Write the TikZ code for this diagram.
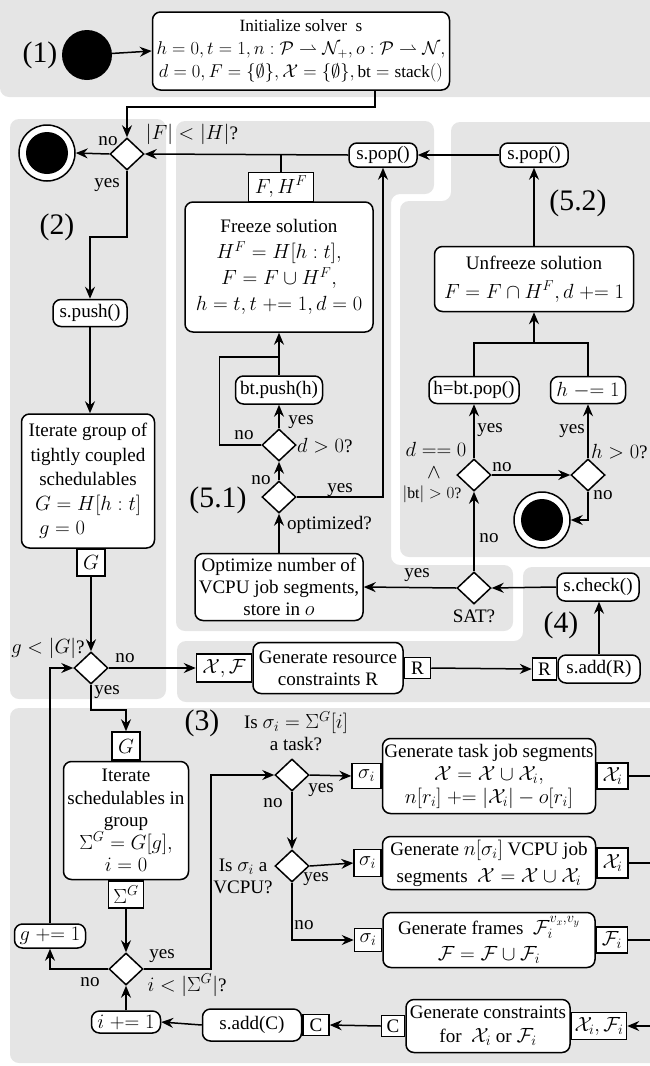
\documentclass[tikz,border=0pt]{standalone}
\usepackage{fix-cm}
\usepackage{fontspec}
\setmainfont{Liberation Serif}[Scale=0.93]
\usetikzlibrary{shapes.geometric,arrows.meta}
\begin{document}
\begin{tikzpicture}[x=1pt,y=-1pt,
  every node/.style={font=\fontsize{20.5}{22}\selectfont},
  box/.style={draw,rectangle,rounded corners=8pt,fill=white,line width=1.5pt,align=center,inner sep=1pt},
  pinbox/.style={draw,rectangle,fill=white,line width=1.5pt,inner sep=1.5pt,minimum height=25pt},
  dia/.style={draw,diamond,fill=white,line width=1.5pt,minimum width=34pt,minimum height=32pt,inner sep=0pt},
  startnode/.style={circle,fill=black,minimum size=50pt,inner sep=0pt},
  endouter/.style={circle,draw,fill=white,line width=1.5pt,minimum size=56pt,inner sep=0pt},
  endinner/.style={circle,fill=black,minimum size=42pt,inner sep=0pt},
  big/.style={font=\fontsize{32}{34}\selectfont,inner sep=0pt},
  lab/.style={inner sep=0pt},
  conn/.style={line width=1.5pt},
  arr/.style={conn,-{Stealth[length=12pt,width=10pt,inset=4pt]}},
  panel/.style={fill=gray!20,rounded corners=9pt}
]
\useasboundingbox (0,0) rectangle (650,1066);
% ---------- panels
\fill[panel] (0,-20) rectangle (680,97);
\fill[panel] (10,119) rectangle (166,699);
\fill[panel] (176,121) -- (434,121) -- (434,194) -- (391,194) -- (391,565) -- (513,565) -- (513,631) -- (176,631) -- cycle;
\fill[panel] (451,122) -- (680,122) -- (680,557) -- (400,557) -- (400,201) -- (451,201) -- cycle;
\fill[panel] (523,567) -- (680,567) -- (680,702) -- (177,702) -- (177,641) -- (523,641) -- cycle;
\fill[panel] (10,708) rectangle (680,1063);

% ---------- (1)
\node[big] (l1) at (40,55) {(1)};
\node[startnode] (st) at (87,55) {};
\node[box, minimum width=297pt, minimum height=78pt, font=\fontsize{18.5}{23}\selectfont] (init) at (301,51)
  {Initialize solver\ \ s\\ $h=0,t=1,n:\mathcal{P}\rightharpoonup\mathcal{N}_+,o:\mathcal{P}\rightharpoonup\mathcal{N},$\\ $d=0,F=\{\emptyset\},\mathcal{X}=\{\emptyset\},\mathrm{bt}=\mathrm{stack}()$};
\draw[arr] (st) -- (init.west);

% ---------- (2)
\node[dia] (d1) at (127,154) {};
\node[endouter] (end1) at (47,153) {};
\node[endinner] (end1i) at (end1) {};
\coordinate (j1) at (375,107);
\draw[arr] (init.south -| j1) -- (j1) -| (d1.north);
\draw[arr] (d1.west) -- (end1.east);
\node[lab] (no1) at (108,141) {no};
\node[lab] (yes1) at (107,185) {yes};
\node[lab] (c1) at (192,134) {$|F|<|H|$?};
\node[big] (l2) at (57,227) {(2)};
\node[box, minimum width=74pt, minimum height=27pt] (spush) at (90,313) {s.push()};
\draw[arr] (d1.south) -- ++(0,66) -| (spush.north);
\node[box, minimum width=133pt, minimum height=134pt, font=\fontsize{20.5}{24.5}\selectfont] (igroup) at (88,481)
  {Iterate group of\\ tightly coupled\\ schedulables\\ $G=H[h:t]$\\ $g=0$\hspace*{52pt}};
\draw[arr] (spush.south) -- (spush.south |- igroup.north);
\node[pinbox, anchor=north, minimum width=28pt, minimum height=27pt] (G1) at (91,548) {$G$};
\node[dia] (d2) at (91,668) {};
\draw[arr] (G1.south) -- (d2.north);
\node[lab] (c2) at (48,648) {$g<|G|$?};
\node[lab] (no2) at (125,658) {no};
\node[lab] (yes2) at (107,692) {yes};

% ---------- (5.1)
\node[box, minimum width=188pt, minimum height=130pt, font=\fontsize{20.5}{26}\selectfont] (freeze) at (279,267)
  {Freeze solution\\ $H^F=H[h:t],$\\ $F=F\cup H^F,$\\ $h=t,t\mathrel{+}=1,d=0$};
\node[pinbox, anchor=south, minimum width=65pt, minimum height=29pt] (FH) at (281,202) {$F,H^F$};
\node[box, minimum width=68pt, minimum height=24pt] (spopL) at (383,155) {s.pop()};
\node[box, minimum width=68pt, minimum height=24pt] (spopR) at (534,155) {s.pop()};
\draw[arr] (spopL.west) -- (d1.east);
\draw[conn] (FH.north) -- (FH.north |- d1.east);
\draw[arr] (spopR.west) -- (spopL.east);
\node[box, minimum width=87pt, minimum height=28pt] (btpush) at (279,390) {bt.push(h)};
\node[dia] (dd) at (279,445) {};
\node[dia] (dopt) at (279,497) {};
\coordinate (jf) at (279,357);
\draw[arr] (jf) -- (freeze.south);
\draw[conn] (btpush.north) -- (jf);
\draw[conn] (dd.west) -- ++(-42,0) |- (jf);
\draw[arr] (dd.north) -- (btpush.south);
\draw[arr] (dopt.north) -- (dd.south);
\draw[arr] (dopt.east) -| (spopL.south);
\node[lab] (yes3) at (301,422) {yes};
\node[lab] (no3) at (244,435) {no};
\node[lab, anchor=west] (c3) at (297,446) {$d>0$?};
\node[lab] (no4) at (261,480) {no};
\node[lab] (yes4) at (340,490) {yes};
\node[lab, anchor=west] (c4) at (287,525) {optimized?};
\node[big] (l51) at (218,500) {(5.1)};
\node[box, minimum width=168pt, minimum height=67pt, font=\fontsize{20.5}{22}\selectfont] (opt) at (279,587)
  {Optimize number of\\ VCPU job segments,\\ store in $o$};
\draw[arr] (opt.north) -- (dopt.south);

% ---------- (5.2)
\node[big] (l52) at (578,203) {(5.2)};
\node[box, minimum width=199pt, minimum height=65pt, font=\fontsize{20.5}{29}\selectfont] (unfreeze) at (534,279)
  {Unfreeze solution\\ $F=F\cap H^F,d\mathrel{+}=1$};
\draw[arr] (unfreeze.north) -- (spopR.south);
\coordinate (ju) at (534,343);
\draw[arr] (ju) -- (unfreeze.south);
\node[box, minimum width=90pt, minimum height=27pt] (hpop) at (474,390) {h=bt.pop()};
\node[box, minimum width=75pt, minimum height=27pt] (hdec) at (588,390) {$h\mathrel{-}=1$};
\draw[conn] (hpop.north) |- (ju);
\draw[conn] (hdec.north) |- (ju);
\node[dia] (dl) at (474,475) {};
\node[dia] (dr) at (588,475) {};
\draw[arr] (dl.north) -- (hpop.south);
\draw[arr] (dr.north) -- (hdec.south);
\draw[arr] (dl.east) -- (dr.west);
\node[endouter] (end2) at (542,520) {};
\node[endinner] (end2i) at (end2) {};
\draw[arr] (dr.south) |- (end2.east);
\node[lab] (yes5) at (490,430) {yes};
\node[lab] (yes6) at (572,431) {yes};
\node[lab] (no5) at (502,467) {no};
\node[lab] (no6) at (603,495) {no};
\node[lab] (c5a) at (436,449) {$d==0$};
\node[lab] (c5b) at (434,473) {$\wedge$};
\node[lab, font=\fontsize{17}{19}\selectfont] (c5c) at (432,494) {$|\mathrm{bt}|>0$?};
\node[lab, anchor=west] (c6) at (591,452) {$h>0$?};

% ---------- (4)
\node[dia] (sat) at (474,588) {};
\node[lab] (csat) at (474,616) {SAT?};
\node[lab] (no7) at (489,538) {no};
\node[lab] (yes7) at (417,575) {yes};
\draw[arr] (sat.north) -- (dl.south);
\draw[arr] (sat.west) -- (opt.east);
\node[box, minimum width=82pt, minimum height=28pt] (scheck) at (598,587) {s.check()};
\draw[arr] (scheck.west) -- (sat.east);
\node[big] (l4) at (561,625) {(4)};
\node[pinbox, minimum width=55pt, minimum height=28pt] (XF) at (224,668) {$\mathcal{X},\mathcal{F}$};
\node[box, anchor=west, minimum width=150pt, minimum height=51pt] (genR) at (XF.east) {Generate resource\\ constraints R};
\node[pinbox, anchor=west, minimum width=26pt, minimum height=21pt] (R1) at (genR.east) {R};
\node[box, minimum width=82pt, minimum height=28pt] (saddR) at (599,669) {s.add(R)};
\node[pinbox, anchor=east, minimum width=24pt, minimum height=22pt] (R2) at (saddR.west) {R};
\draw[arr] (R1.east) -- (R2.west);
\draw[arr] (saddR.north) -- (saddR.north |- scheck.south);
\draw[arr] (d2.east) -- (XF.west);

% ---------- (3)
\node[big] (l3) at (202,723) {(3)};
\node[lab, align=center, font=\fontsize{20.5}{22}\selectfont] (c7) at (296,731) {Is $\sigma_i=\Sigma^G[i]$\\ a task?};
\node[pinbox, minimum width=28pt, minimum height=28pt] (G2) at (126,746) {$G$};
\draw[arr] (d2.south) -- ++(0,25) -| (G2.north);
\node[box, anchor=north, minimum width=125pt, minimum height=118pt, font=\fontsize{20.5}{22.5}\selectfont] (isched) at (G2.south)
  {Iterate\\ schedulables in\\ group\\ $\Sigma^G=G[g],$\\ $i=0$};
\node[pinbox, anchor=north, minimum width=35pt, minimum height=27pt] (SG) at (isched.south) {$\Sigma^G$};
\node[dia] (d3) at (126,969) {};
\draw[arr] (SG.south) -- (d3.north);
\node[lab] (yes8) at (162,956) {yes};
\node[lab] (no8) at (90,982) {no};
\node[lab] (c8) at (187,985) {$i<|\Sigma^G|$?};
\node[box, minimum width=71pt, minimum height=24pt] (ginc) at (50,936) {$g\mathrel{+}=1$};
\draw[arr] (d3.west) -| (ginc.south);
\draw[arr] (ginc.north) |- (d2.west);
\node[box, minimum width=69pt, minimum height=22pt] (iinc) at (126,1022) {$i\mathrel{+}=1$};
\draw[arr] (iinc.north) -- (d3.south);
\node[box, minimum width=99pt, minimum height=32pt] (saddC) at (252,1025) {s.add(C)};
\node[pinbox, anchor=west, minimum width=26pt, minimum height=21pt] (C1) at (saddC.east) {C};
\draw[arr] (saddC.west) -- (iinc.east);
\node[dia] (dtask) at (292,775) {};
\node[dia] (dvcpu) at (292,866) {};
\draw[arr] (d3.east) -- ++(67,0) |- (dtask.west);
\draw[arr] (dtask.south) -- (dvcpu.north);
\node[lab] (no9) at (273,803) {no};
\node[lab] (yes9) at (321,790) {yes};
\node[lab, align=center, font=\fontsize{20.5}{22}\selectfont] (c9) at (243,876) {Is $\sigma_i$ a\\ VCPU?};
\node[lab] (yes10) at (316,879) {yes};
\node[lab] (no10) at (304,925) {no};
% generators
\node[box, minimum width=213pt, minimum height=75pt, font=\fontsize{20.5}{23}\selectfont] (gtask) at (489,776)
  {Generate task job segments\\ $\mathcal{X}=\mathcal{X}\cup\mathcal{X}_i,$\\ $n[r_i]\mathrel{+}=|\mathcal{X}_i|-o[r_i]$};
\node[pinbox, anchor=east, minimum width=29pt, minimum height=25pt] (sig1) at (gtask.west) {$\sigma_i$};
\node[pinbox, anchor=west, minimum width=31pt, minimum height=26pt] (Xi1) at (gtask.east) {$\mathcal{X}_i$};
\node[box, minimum width=213pt, minimum height=53pt, font=\fontsize{20.5}{27}\selectfont] (gvcpu) at (489,863)
  {Generate $n[\sigma_i]$ VCPU job\\ segments\ \ $\mathcal{X}=\mathcal{X}\cup\mathcal{X}_i$};
\node[pinbox, anchor=east, minimum width=27pt, minimum height=27pt] (sig2) at (gvcpu.west) {$\sigma_i$};
\node[pinbox, anchor=west, minimum width=31pt, minimum height=30pt] (Xi2) at (gvcpu.east) {$\mathcal{X}_i$};
\node[box, minimum width=212pt, minimum height=55pt, font=\fontsize{20.5}{26}\selectfont] (gframe) at (489,940)
  {Generate frames\ \ $\mathcal{F}_i^{v_x,v_y}$\\ $\mathcal{F}=\mathcal{F}\cup\mathcal{F}_i$};
\node[pinbox, anchor=east, minimum width=27pt, minimum height=23pt] (sig3) at (gframe.west) {$\sigma_i$};
\node[pinbox, anchor=west, minimum width=31pt, minimum height=26pt] (Fi) at (gframe.east) {$\mathcal{F}_i$};
\draw[arr] (dtask.east) -- (sig1.west);
\draw[arr] (dvcpu.east) -- (sig2.west);
\draw[arr] (dvcpu.south) |- (sig3.west);
\coordinate (e1) at (655,776);
\coordinate (e2) at (655,865);
\coordinate (e3) at (655,940);
\coordinate (e4) at (655,1026);
\draw[conn] (Xi1.east) -- (Xi1.east -| e1);
\draw[conn] (Xi2.east) -- (Xi2.east -| e2);
\draw[conn] (Fi.east) -- (Fi.east -| e3);
\node[box, minimum width=164pt, minimum height=53pt, font=\fontsize{20.5}{24}\selectfont] (genC) at (488,1026)
  {Generate constraints\\ for\ \ $\mathcal{X}_i$ or $\mathcal{F}_i$};
\node[pinbox, anchor=east, minimum width=23pt, minimum height=21pt] (C2) at (genC.west) {C};
\node[pinbox, anchor=west, minimum width=55pt, minimum height=27pt] (XFi) at (genC.east) {$\mathcal{X}_i,\mathcal{F}_i$};
\draw[arr] (e4) -- (XFi.east);
\draw[arr] (C2.west) -- (C1.east);
\end{tikzpicture}
\end{document}
